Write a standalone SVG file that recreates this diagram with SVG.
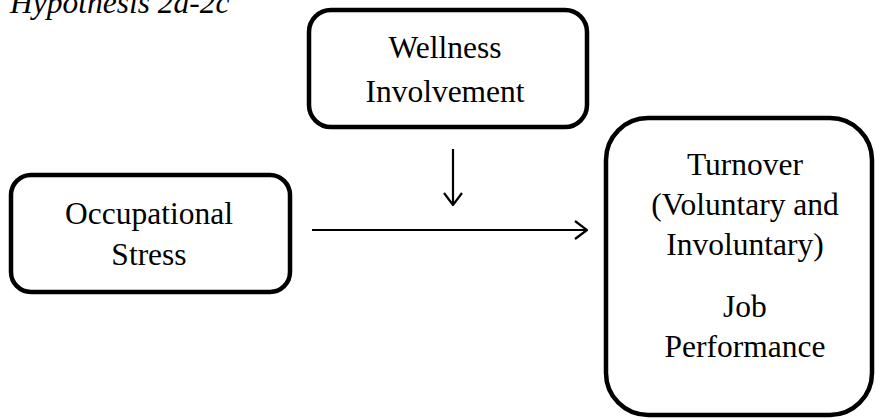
<svg xmlns="http://www.w3.org/2000/svg" width="876" height="419" viewBox="0 0 876 419">
  <style>
    .box { fill: #ffffff; stroke: #000000; stroke-width: 4.5; }
    .lbl { font-family: "Liberation Serif", "Times New Roman", serif; font-size: 31.5px; fill: #000000; text-anchor: middle; }
    .title { font-family: "Liberation Serif", "Times New Roman", serif; font-size: 31.5px; font-style: italic; fill: #000000; }
    .conn { fill: none; stroke: #000000; stroke-width: 2.2; }
  </style>
  <defs>
    <marker id="open-arrow" viewBox="0 0 14 20" refX="13" refY="10" markerWidth="14" markerHeight="20" markerUnits="userSpaceOnUse" orient="auto">
      <path d="M1,1 L13,10 L1,19" fill="none" stroke="#000000" stroke-width="2.2"/>
    </marker>
  </defs>
  <rect width="876" height="419" fill="#ffffff"/>

  <text class="title" x="10" y="13">Hypothesis 2a-2c</text>

  <g id="wellness">
    <rect class="box" x="309" y="10" width="278" height="117" rx="22" ry="22"/>
    <text class="lbl" x="445" y="58">Wellness</text>
    <text class="lbl" x="445" y="102">Involvement</text>
  </g>

  <g id="stress">
    <rect class="box" x="11" y="175" width="279" height="117" rx="20" ry="20"/>
    <text class="lbl" x="149" y="224">Occupational</text>
    <text class="lbl" x="149" y="265">Stress</text>
  </g>

  <g id="outcomes">
    <rect class="box" x="606" y="118" width="266" height="297" rx="42" ry="42"/>
    <text class="lbl" x="745" y="175">Turnover</text>
    <text class="lbl" x="745" y="215">(Voluntary and</text>
    <text class="lbl" x="745" y="255">Involuntary)</text>
    <text class="lbl" x="745" y="317">Job</text>
    <text class="lbl" x="745" y="357">Performance</text>
  </g>

  <g id="connectors">
    <line class="conn" x1="453" y1="149" x2="453" y2="205" marker-end="url(#open-arrow)"/>
    <line class="conn" x1="312" y1="230" x2="587" y2="230" marker-end="url(#open-arrow)"/>
  </g>
</svg>
